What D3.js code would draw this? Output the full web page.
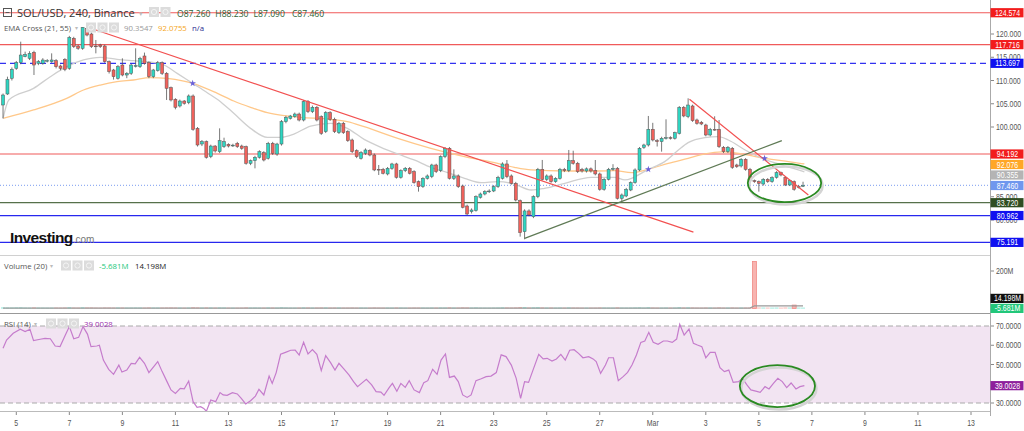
<!DOCTYPE html>
<html>
<head>
<meta charset="utf-8">
<script src="https://cdn.jsdelivr.net/npm/d3@7"></script>
<style>
  body { margin: 0; background: #fff; }
  svg { display: block; font-family: "Open Sans", "Liberation Sans", sans-serif; }
  .axis-text { font-family: "Liberation Sans", Arial, sans-serif; }
</style>
</head>
<body>
<svg id="chart" width="1024" height="431"></svg>
<script>
// SOL/USD 4h candles, first bar 4 Feb 2022 12:00 UTC
var startTime = Date.UTC(2022, 1, 4, 12);
var barHours = 4;

// [open, high, low, close]
var candles = [
  [104.73,107.2,101.86,106.88],[107.10,110.82,106.9,110.25],[110.47,112.8,110.0,112.40],[112.62,114.2,112.3,113.83],[113.83,118.35,113.5,115.48],[115.12,116.2,115.0,115.63],
  [114.77,116.3,114.4,115.84],[116.06,116.4,111.18,113.33],[113.69,114.4,113.3,114.05],[113.69,114.8,113.4,114.41],[114.26,114.6,113.9,114.30],[114.05,115.84,113.8,114.41],
  [114.26,114.6,112.6,112.97],[113.12,113.4,112.2,112.62],[114.55,114.8,112.0,112.40],[112.62,119.6,112.3,119.28],[119.07,119.4,117.0,117.28],[117.42,117.7,116.6,116.92],
  [116.92,121.5,116.6,121.43],[121.22,121.5,119.5,119.78],[120.00,120.3,117.0,117.28],[117.42,118.71,115.84,117.28],[117.63,117.9,117.0,117.28],[117.42,117.7,113.8,114.05],
  [114.05,114.3,111.5,111.90],[112.26,112.5,110.2,110.82],[110.47,113.3,110.2,112.97],[113.33,114.77,110.9,111.18],[111.18,111.8,110.5,111.54],[111.54,113.6,111.2,113.33],
  [113.12,116.92,112.8,113.20],[112.97,115.1,112.7,114.77],[115.27,116.0,113.4,113.69],[113.83,114.1,110.5,110.82],[110.82,112.5,110.5,112.26],[112.12,114.2,111.9,113.83],
  [113.83,114.1,111.2,111.54],[111.54,111.8,105.81,108.31],[108.46,108.7,105.5,105.81],[105.95,106.2,103.8,104.23],[104.52,105.9,104.2,105.59],[105.59,105.8,104.8,105.09],
  [105.23,107.0,104.9,106.67],[106.67,107.0,99.2,99.50],[99.71,100.0,95.8,96.13],[96.34,97.2,95.9,96.85],[96.85,97.1,93.2,93.48],[93.62,96.2,93.3,95.91],
  [95.91,96.1,94.5,94.84],[94.69,99.71,94.4,97.06],[95.77,97.7,95.5,96.85],[96.27,96.5,95.6,95.91],[96.06,96.4,95.7,96.10],[96.49,96.8,95.5,95.77],
  [95.91,96.2,95.1,95.41],[95.77,96.0,91.9,92.19],[92.19,93.0,91.8,92.76],[92.76,93.8,91.11,93.48],[93.48,95.0,93.2,94.69],[94.48,94.8,92.6,92.90],
  [93.26,96.8,93.0,96.49],[96.49,96.8,94.0,94.34],[94.19,96.6,93.8,96.34],[96.34,101.5,96.0,101.15],[101.15,102.4,100.8,102.08],[101.86,102.6,101.6,102.36],
  [102.22,103.1,102.0,102.79],[102.79,103.1,101.2,101.50],[101.50,105.8,101.2,105.45],[105.45,105.8,103.0,103.30],[103.30,104.6,103.0,104.23],[104.23,104.5,101.2,101.50],
  [102.22,102.5,98.3,98.64],[99.00,103.4,98.7,103.08],[103.08,103.4,101.3,101.65],[101.65,102.0,98.7,99.00],[98.78,101.1,98.5,100.79],[100.79,101.1,98.5,98.78],
  [99.00,99.3,96.8,97.06],[97.21,97.5,94.4,94.70],[94.91,95.2,93.3,93.62],[93.26,94.8,93.0,94.48],[94.34,95.4,94.0,95.06],[94.91,95.2,93.7,93.98],
  [93.98,94.3,90.5,90.76],[90.90,91.83,89.68,90.85],[90.90,91.2,89.8,90.04],[89.90,91.4,89.6,91.11],[91.11,92.3,90.8,92.05],[92.05,92.3,88.9,89.18],
  [89.18,90.9,88.9,90.61],[90.61,91.4,90.3,91.11],[91.11,91.4,89.8,90.04],[90.40,90.7,87.8,88.03],[88.25,88.5,86.10,87.17],[87.17,89.2,86.9,88.96],
  [88.96,89.8,88.7,89.47],[89.32,92.1,89.0,91.83],[91.83,92.1,90.1,90.40],[90.61,93.9,90.3,93.62],[93.62,95.7,93.3,95.42],[95.42,95.7,88.7,88.96],
  [88.96,90.9,88.6,89.47],[89.47,89.8,86.9,87.17],[87.31,87.6,82.5,82.73],[83.01,83.3,81.0,81.29],[81.80,82.5,81.4,82.15],[82.01,85.3,81.8,85.02],
  [84.88,85.9,84.6,85.59],[85.59,86.4,85.3,86.10],[86.10,86.6,85.8,86.24],[86.24,87.5,86.0,87.17],[87.17,89.5,86.9,89.18],[88.96,92.4,88.7,92.05],
  [92.05,92.9,89.0,89.32],[89.47,89.8,87.6,87.89],[87.89,88.2,84.0,84.30],[84.16,84.4,76.42,77.28],[77.49,82.3,75.85,81.95],[81.95,82.3,80.8,81.08],
  [80.72,85.3,80.4,85.02],[85.02,91.2,84.7,90.90],[90.90,92.91,88.5,88.75],[88.75,89.8,88.4,89.47],[89.47,89.8,88.0,88.25],[88.25,89.2,88.0,88.96],
  [88.96,91.2,88.7,90.90],[90.90,91.2,90.3,90.61],[90.61,95.06,90.3,92.76],[92.76,94.9,91.9,92.19],[92.19,92.5,90.1,90.40],[90.90,91.2,90.2,90.54],
  [90.54,91.3,90.2,91.00],[91.00,91.3,90.2,90.54],[90.61,92.9,89.6,89.90],[89.90,90.2,86.3,86.60],[86.60,89.0,86.3,88.75],[88.75,91.2,88.5,90.90],
  [90.90,92.0,90.6,91.11],[91.11,91.4,84.4,84.66],[84.66,85.7,84.0,85.38],[85.16,86.9,84.9,86.60],[86.45,88.3,86.2,88.03],[88.03,91.1,87.8,90.76],
  [90.76,95.7,90.5,95.42],[95.63,96.4,95.3,96.13],[96.13,102.37,95.8,99.50],[99.50,100.9,96.9,97.21],[97.06,97.4,95.8,96.85],[96.85,97.9,94.7,97.57],
  [97.57,101.65,97.3,97.71],[97.71,98.0,97.3,97.60],[97.57,99.0,97.3,98.78],[98.64,104.5,98.4,104.23],[104.23,104.5,102.1,102.37],[102.22,106.17,101.9,104.73],
  [104.52,104.8,101.1,101.37],[101.51,101.8,100.5,100.79],[101.01,101.3,100.4,100.65],[100.43,100.7,98.0,98.28],[98.28,99.8,98.0,99.50],[99.50,102.3,99.2,99.45],
  [99.50,101.5,95.5,95.77],[95.63,95.9,94.4,94.70],[94.70,95.9,94.4,95.63],[95.42,95.7,91.0,91.33],[91.83,92.1,91.2,91.47],[91.62,93.3,91.3,93.05],
  [93.05,93.3,90.6,90.90],[90.90,91.2,88.3,88.61],[88.46,88.7,88.0,88.25],[88.25,88.5,86.10,87.89],[87.74,89.0,87.4,88.75],[88.75,89.0,88.0,88.25],
  [88.25,89.4,88.0,89.11],[89.18,90.5,88.9,90.18],[90.18,90.4,89.4,89.68],[89.18,89.4,87.3,87.53],[87.53,88.7,87.3,88.46],[88.25,88.5,86.3,86.60],
  [87.00,87.5,86.8,87.26],[87.26,88.23,87.09,87.46]
];

// volume, millions
var volumes = [
  2.4,2.1,1.9,2.6,3.1,1.7, 1.5,2.8,1.6,1.4,1.2,1.3, 1.9,1.5,2.2,3.4,2.0,1.6, 3.0,2.5,2.7,1.8,1.4,2.6,
  2.3,1.9,2.0,2.1,1.5,1.7, 1.9,1.8,1.6,2.5,1.7,1.8, 1.9,2.4,2.6,2.2,1.5,1.2, 1.6,3.8,2.9,1.7,2.6,2.0,
  1.6,2.3,1.9,1.3,1.1,1.2, 1.4,2.7,1.8,1.9,1.6,1.5, 2.2,2.0,1.7,3.3,2.1,1.5, 1.4,1.6,2.4,2.2,1.7,2.1,
  2.5,2.3,1.8,2.0,1.9,1.7, 1.8,2.2,1.6,1.7,1.4,1.5, 2.6,1.9,1.5,1.6,1.4,2.2, 1.8,1.3,1.5,2.0,1.9,1.6,
  1.4,1.8,1.6,2.1,1.9,3.0, 1.7,1.9,3.2,2.6,1.8,2.4, 1.5,1.3,1.2,1.6,1.9,2.7, 2.4,2.0,2.9,4.6,3.9,2.1,
  2.8,3.5,2.6,1.7,1.9,1.4, 1.8,1.5,2.4,2.0,1.9,1.3, 1.2,1.4,1.5,2.3,1.8,1.6, 1.3,2.9,1.6,1.5,1.7,2.2,
  3.1,1.6,3.4,2.1,1.5,1.4, 1.8,1.3,1.6,3.6,2.2,2.5, 2.4,1.7,1.4,2.0,1.6,1.5, 2.8,1.6,1.5,2.3,1.4,1.7,
  1.9,2.0,248,1.8,1.5,1.4, 1.3,1.6,1.2,2.1,1.5,15, 1.4,1.2
];
var volumeMa = [[0, 2.1], [169, 2.0], [170, 14.5], [181, 14.2]];

// EMA cross (21, 55): [bar index, value]
var ema21 = [
  [0,101.86],[1.3,105.81],[6.9,108.31],[10.7,110.82],[14.4,112.97],[18.2,114.41],[22,114.98],[25.8,114.55],
  [29.5,114.26],[33.3,113.98],[36.4,113.33],[39.4,111.54],[42.9,109.39],[46.2,107.38],[49.2,105.45],[52.2,102.94],
  [56,99.71],[59.8,97.78],[62.8,97.78],[65.8,98.49],[69.6,100.21],[74.1,100.79],[77.9,99.72],[81.7,97.35],
  [85.5,95.63],[89.3,94.20],[93,92.91],[96.8,91.33],[100.6,90.18],[104.4,88.96],[108.2,88.03],[111.9,88.25],
  [115.7,87.74],[119.5,86.45],[122.5,86.81],[127.1,87.89],[133.1,89.18],[138.4,89.18],[140.7,88.61],[146,90.90],
  [149.7,92.55],[152.8,95.06],[155,96.63],[158.8,97.71],[161.8,97.92],[164.1,97.21],[167.9,95.06],[171.7,93.26],
  [175.4,92.05],[179.2,90.97],[181.3,90.36]
];
var ema55 = [
  [0,101.86],[6.9,103.66],[14.4,106.16],[18.2,107.96],[22,109.03],[25.8,109.75],[29.5,110.11],[33.3,110.61],
  [37.1,110.47],[40.9,109.89],[42.9,109.39],[48.5,107.24],[52.2,105.59],[56,104.23],[59.8,103.08],[63.6,102.44],
  [67.3,102.08],[74.1,101.65],[77.9,101.15],[81.7,100.07],[89.3,97.57],[96.8,95.42],[104.4,93.62],[111.9,92.19],
  [115.7,91.33],[119.5,90.76],[127.1,90.54],[134.6,90.54],[138.4,90.61],[142.2,90.18],[146,90.90],[150.5,92.19],
  [155,93.26],[158.8,94.20],[162.6,94.63],[166.4,94.34],[170.2,93.62],[173.9,93.05],[177.7,92.55],[181.3,92.05]
];
var emaCrosses = [[42.9, 109.4], [146, 90.9], [172.3, 93.27]];

// RSI (14): [bar index, value]
var rsi = [
  [0,58.4],[0.8,62.7],[2.3,66.2],[3.9,68.3],[5.0,67.1],[6.1,68.3],[6.9,62.4],[8.4,63.1],[9.5,63.6],[10.7,63.4],
  [11.8,59.6],[12.9,59.3],[14.1,65.3],[15.0,69.7],[16.0,63.4],[17.1,64.1],[18.1,69.7],[19.1,65.8],[19.9,59.3],[21.2,59.6],
  [21.8,60.0],[22.7,52.3],[23.9,47.5],[25.0,44.9],[26.2,49.7],[26.9,46.1],[28.0,47.1],[29.0,50.6],[29.9,50.3],[30.9,53.7],
  [32.0,50.6],[33.0,45.8],[34.1,48.9],[35.0,51.5],[36.0,46.3],[37.1,41.1],[38.0,36.8],[39.0,35.0],[40.1,37.6],[41.0,37.4],
  [42.0,41.4],[43.0,30.7],[43.9,27.8],[44.7,28.1],[45.4,27.2],[46.0,25.7],[47.0,31.6],[48.1,30.7],[49.1,35.4],[49.8,34.2],
  [50.7,34.0],[51.9,35.4],[53.0,34.7],[53.9,32.4],[54.9,29.5],[56.0,31.2],[57.1,33.6],[57.9,37.1],[59.0,34.2],[60.2,44.0],
  [60.9,40.2],[61.8,45.8],[62.8,55.3],[63.9,56.3],[65.1,57.4],[66.1,57.5],[67.0,54.9],[68.0,61.5],[69.0,55.5],[70.0,57.7],
  [71.0,55.3],[72.0,46.8],[73.0,54.6],[74.1,51.0],[75.1,47.1],[76.0,50.6],[77.2,47.5],[78.3,44.5],[79.3,41.1],[80.2,38.5],
  [81.3,40.6],[82.2,42.3],[83.4,39.4],[84.4,35.9],[85.5,35.7],[86.2,34.0],[87.4,38.1],[88.1,40.2],[89.1,36.1],[90.0,40.2],
  [91.0,38.1],[91.9,41.6],[93.0,36.8],[94.2,35.4],[95.2,40.6],[96.1,41.6],[97.2,47.5],[98.2,44.9],[99.1,52.3],[100.1,55.5],
  [101.0,43.3],[102.1,44.0],[103.0,41.1],[104.0,34.2],[105.0,32.9],[105.9,34.2],[107.0,41.6],[108.2,42.6],[109.3,43.7],[110.4,44.0],
  [111.6,45.8],[112.7,55.0],[113.8,54.1],[115.0,49.7],[116.1,42.8],[117.1,32.4],[118.0,41.1],[118.9,40.7],[119.9,47.1],[121.2,55.3],
  [122.2,52.9],[123.1,53.2],[124.2,51.8],[125.2,52.9],[126.2,55.3],[127.2,52.3],[128.2,57.4],[129.2,57.7],[130.2,55.8],[131.2,53.5],
  [132.5,54.1],[133.5,52.9],[134.2,51.5],[135.2,45.4],[136.3,49.7],[137.0,53.5],[138.1,53.5],[139.2,41.6],[140.3,43.7],[141.3,45.9],
  [142.3,49.7],[143.3,54.9],[144.3,61.5],[145.2,62.2],[146.1,66.7],[147.1,61.5],[148.2,60.5],[149.4,62.2],[150.3,62.2],[151.4,61.5],
  [152.4,63.2],[153.1,70.9],[154.1,65.3],[155.2,68.4],[156.2,61.0],[157.1,60.1],[158.1,59.3],[159.0,53.5],[160.0,56.3],[161.1,56.3],
  [162.2,48.4],[163.2,46.3],[164.2,47.1],[165.2,40.7],[166.4,41.1],[167.3,42.8],[168.3,39.4],[169.2,36.8],[170.3,36.2],[171.3,35.5],
  [172.4,38.5],[173.3,37.3],[174.3,40.2],[175.3,42.8],[176.3,41.1],[177.3,38.0],[178.3,40.4],[179.4,37.3],[180.3,38.5],[181.3,39.0]
];

// horizontal levels
var redLevels = [124.574, 117.716, 94.192];
var dashedLevels = [113.697];
var blueLevels = [80.962, 75.191];
var greenLevels = [83.720];
var lastClose = 87.460;
var ema21Last = "90.3547", ema55Last = "92.0755";
var ema21Tag = 90.355, ema55Tag = 92.076;
var lastOhlc = ["O87.260", "H88.230", "L87.090", "C87.460"];
var volLegend = ["-5.681M", "14.198M"];
var rsiLast = 39.0028;

// drawn trendlines: [bar index, price]
var downTrend = [[19.0, 121.5], [156.2, 77.4]];
var upTrend = [[118.0, 76.06], [176.2, 97.06]];
var shortDown = [[155.3, 105.95], [182.2, 85.38]];
// ellipses: centre bar, centre value, half width in bars, half height in value
var priceRing = [176.8, 87.96, 8.3, 4.1];
var rsiRing = [175.2, 38.8, 8.5, 10.9];

// axis ticks
var priceTicks = [80, 85, 90, 95, 100, 105, 110, 115, 120];
var rsiTicks = [30, 40, 50, 60, 70];
var volTicks = [200];
var dayTickDates = ["2022-02-05","2022-02-07","2022-02-09","2022-02-11","2022-02-13","2022-02-15","2022-02-17","2022-02-19",
  "2022-02-21","2022-02-23","2022-02-25","2022-02-27","2022-03-01","2022-03-03","2022-03-05","2022-03-07","2022-03-09","2022-03-11","2022-03-13"];
var dayTickLabels = ["5","7","9","11","13","15","17","19","21","23","25","27","Mar","3","5","7","9","11","13"];

// ---------- layout ----------
var svg = d3.select("#chart");
var plotRight = 990;
var priceBottom = 255, volTop = 256, volBottom = 313, rsiBottom = 411;

var x = d3.scaleUtc()
    .domain([new Date(Date.UTC(2022, 1, 5)), new Date(Date.UTC(2022, 2, 13))])
    .range([16.3, 971]);
function barTime(i) { return new Date(startTime + i * barHours * 3600e3); }
function xb(i) { return x(barTime(i)); }

var yPrice = d3.scaleLinear().domain([75, 125]).range([243.25, 10.75]);
var yVol = d3.scaleLinear().domain([0, 200]).range([308.5, 271]);
var yRsi = d3.scaleLinear().domain([30, 70]).range([403, 326]);

// narrow axis text (no condensed font installed, so squeeze it)
function narrowText(g, xx, yy, txt, size, fill, anchor) {
    return g.append("text")
        .attr("class", "axis-text")
        .attr("transform", "translate(" + xx + "," + yy + ") scale(0.82,1)")
        .attr("text-anchor", anchor || "start")
        .attr("font-size", size).attr("fill", fill)
        .text(txt);
}

var defs = svg.append("defs");
defs.append("clipPath").attr("id", "clipPrice")
    .append("rect").attr("x", 0).attr("y", 0).attr("width", plotRight).attr("height", priceBottom);
defs.append("clipPath").attr("id", "clipVol")
    .append("rect").attr("x", 0).attr("y", volTop).attr("width", plotRight).attr("height", volBottom - volTop);
defs.append("clipPath").attr("id", "clipRsi")
    .append("rect").attr("x", 0).attr("y", volBottom).attr("width", plotRight).attr("height", rsiBottom - volBottom);

var gPrice = svg.append("g").attr("clip-path", "url(#clipPrice)");
var gVol = svg.append("g").attr("clip-path", "url(#clipVol)");
var gRsi = svg.append("g").attr("clip-path", "url(#clipRsi)");

// ---------- price pane ----------
function hLine(g, v, colour, dash, width) {
    g.append("line")
        .attr("x1", 0).attr("x2", plotRight)
        .attr("y1", yPrice(v)).attr("y2", yPrice(v))
        .attr("stroke", colour).attr("stroke-width", width || 1)
        .attr("stroke-dasharray", dash || null);
}
redLevels.forEach(function(v) { hLine(gPrice, v, "#f05a5a", null, 1.2); });
dashedLevels.forEach(function(v) { hLine(gPrice, v, "#3232f0", "6,4", 1.2); });
blueLevels.forEach(function(v) { hLine(gPrice, v, "#2828ee", null, 1.2); });
greenLevels.forEach(function(v) { hLine(gPrice, v, "#56704a", null, 1.2); });
hLine(gPrice, lastClose, "#7a9cf0", "1,2", 1);

// watermark
var wm = svg.append("text").attr("x", 10).attr("y", 243)
    .attr("font-family", "Liberation Sans, Arial, sans-serif");
wm.append("tspan").attr("font-weight", "bold").attr("font-size", 15.5).attr("fill", "#111")
    .attr("letter-spacing", -0.6).text("Investing");
wm.append("tspan").attr("font-size", 10).attr("fill", "#777").text(".com");

// EMA lines
var emaLine = d3.line()
    .curve(d3.curveMonotoneX)
    .x(function(d) { return xb(d[0]); })
    .y(function(d) { return yPrice(d[1]); });
gPrice.append("path").datum(ema55).attr("d", emaLine)
    .attr("fill", "none").attr("stroke", "#ffc88a").attr("stroke-width", 1.3);
gPrice.append("path").datum(ema21).attr("d", emaLine)
    .attr("fill", "none").attr("stroke", "#cfcfcf").attr("stroke-width", 1.3);

// candles
var bodyW = 3;
var candleG = gPrice.append("g");
candleG.selectAll("line.wick")
    .data(candles).enter().append("line")
    .attr("class", "wick")
    .attr("x1", function(d, i) { return xb(i); })
    .attr("x2", function(d, i) { return xb(i); })
    .attr("y1", function(d) { return yPrice(d[1]); })
    .attr("y2", function(d) { return yPrice(d[2]); })
    .attr("stroke", "#555").attr("stroke-width", 0.8);
candleG.selectAll("rect.body")
    .data(candles).enter().append("rect")
    .attr("class", "body")
    .attr("x", function(d, i) { return xb(i) - bodyW / 2; })
    .attr("y", function(d) { return yPrice(Math.max(d[0], d[3])); })
    .attr("width", bodyW)
    .attr("height", function(d) { return Math.max(0.8, Math.abs(yPrice(d[0]) - yPrice(d[3]))); })
    .attr("fill", function(d) { return d[3] >= d[0] ? "#2ed6c2" : "#f0615b"; })
    .attr("stroke", "#555").attr("stroke-width", 0.5);

// trendlines
var trendLine = d3.line()
    .x(function(d) { return xb(d[0]); })
    .y(function(d) { return yPrice(d[1]); });
gPrice.append("path").datum(downTrend).attr("d", trendLine)
    .attr("stroke", "#f25050").attr("stroke-width", 1.2).attr("fill", "none");
gPrice.append("path").datum(shortDown).attr("d", trendLine)
    .attr("stroke", "#f25050").attr("stroke-width", 1.2).attr("fill", "none");
gPrice.append("path").datum(upTrend).attr("d", trendLine)
    .attr("stroke", "#5f7a55").attr("stroke-width", 1.2).attr("fill", "none");

// EMA cross markers
gPrice.selectAll("path.cross")
    .data(emaCrosses).enter().append("path")
    .attr("class", "cross")
    .attr("transform", function(d) { return "translate(" + xb(d[0]) + "," + yPrice(d[1]) + ")"; })
    .attr("d", d3.symbol().type(d3.symbolStar).size(14))
    .attr("fill", "#6a60d8");

function ring(g, r, yScale) {
    var cx = xb(r[0]), cy = yScale(r[1]);
    var rx = xb(r[0] + r[2]) - cx, ry = yScale(r[1] - r[3]) - cy;
    g.append("ellipse").attr("cx", cx + 1.5).attr("cy", cy + 2.5).attr("rx", rx).attr("ry", ry)
        .attr("fill", "none").attr("stroke", "#d4d4d4").attr("stroke-width", 2.5);
    g.append("ellipse").attr("cx", cx).attr("cy", cy).attr("rx", rx).attr("ry", ry)
        .attr("fill", "none").attr("stroke", "#2a8a22").attr("stroke-width", 1.8);
}
ring(gPrice, priceRing, yPrice);

// ---------- volume pane ----------
gVol.selectAll("rect.vol")
    .data(volumes).enter().append("rect")
    .attr("class", "vol")
    .attr("x", function(d, i) { return xb(i) - 2; })
    .attr("width", 4)
    .attr("y", function(d) { return yVol(d) - 0.6; })
    .attr("height", function(d) { return yVol(0) - yVol(d) + 0.6; })
    .attr("fill", function(d, i) { return candles[i][3] >= candles[i][0] ? "#8fe6d8" : "#f7b4b0"; })
    .attr("stroke", function(d) { return d > 10 ? "#f08a85" : "none"; })
    .attr("stroke-width", 0.8);
gVol.append("path").datum(volumeMa)
    .attr("d", d3.line().x(function(d) { return xb(d[0]); }).y(function(d) { return yVol(d[1]); }))
    .attr("fill", "none").attr("stroke", "#9a9a9a").attr("stroke-width", 1.2);

// ---------- RSI pane ----------
gRsi.append("rect")
    .attr("x", 0).attr("width", plotRight)
    .attr("y", yRsi(70)).attr("height", yRsi(30) - yRsi(70))
    .attr("fill", "#f2e4f2");
[70, 30].forEach(function(v) {
    gRsi.append("line").attr("x1", 0).attr("x2", plotRight)
        .attr("y1", yRsi(v)).attr("y2", yRsi(v))
        .attr("stroke", "#aaa").attr("stroke-width", 1.2).attr("stroke-dasharray", "5,3");
});
gRsi.append("path").datum(rsi)
    .attr("d", d3.line().x(function(d) { return xb(d[0]); }).y(function(d) { return yRsi(d[1]); }))
    .attr("fill", "none").attr("stroke", "#c57ccc").attr("stroke-width", 1.2);
ring(gRsi, rsiRing, yRsi);

// ---------- frame ----------
svg.append("line").attr("x1", 0).attr("x2", plotRight).attr("y1", priceBottom + 0.5).attr("y2", priceBottom + 0.5)
    .attr("stroke", "#d0d0d0");
svg.append("line").attr("x1", 0).attr("x2", plotRight).attr("y1", volBottom + 0.5).attr("y2", volBottom + 0.5)
    .attr("stroke", "#999");
svg.append("line").attr("x1", 0).attr("x2", plotRight).attr("y1", rsiBottom + 0.5).attr("y2", rsiBottom + 0.5)
    .attr("stroke", "#bbb");
svg.append("line").attr("x1", plotRight + 0.5).attr("x2", plotRight + 0.5).attr("y1", 0).attr("y2", 416)
    .attr("stroke", "#aaa");

// ---------- value tags (price axis), pushed apart when they collide ----------
var tags = [];
redLevels.forEach(function(v) { tags.push({ v: v, bg: "#f21c1c" }); });
dashedLevels.forEach(function(v) { tags.push({ v: v, bg: "#1010f0" }); });
blueLevels.forEach(function(v) { tags.push({ v: v, bg: "#1010f0" }); });
greenLevels.forEach(function(v) { tags.push({ v: v, bg: "#2f4d22" }); });
tags.push({ v: ema55Tag, bg: "#ffa726" });
tags.push({ v: ema21Tag, bg: "#b4b4b4" });
tags.push({ v: lastClose, bg: "#6f97ee" });
tags.forEach(function(d) { d.y = yPrice(d.v); });
tags.sort(function(a, b) { return a.y - b.y; });
for (var k = 1; k < tags.length; k++) {
    if (tags[k].y < tags[k - 1].y + 10.5) tags[k].y = tags[k - 1].y + 10.5;
}

// ---------- right axes ----------
function rightTicks(values, scale, fmt, lo, hi, covers) {
    var g = svg.append("g");
    values.forEach(function(v) {
        var yy = scale(v);
        if (yy < lo || yy > hi) return;
        // hidden behind a value tag
        if (covers.some(function(c) { return Math.abs(c - yy) < 4; })) return;
        g.append("line").attr("x1", plotRight + 1).attr("x2", plotRight + 4)
            .attr("y1", yy).attr("y2", yy).attr("stroke", "#888");
        narrowText(g, plotRight + 6, yy + 3, fmt(v), 8.5, "#555");
    });
}
rightTicks(priceTicks, yPrice, d3.format(".3f"), 5, 250, tags.map(function(d) { return d.y; }));
rightTicks(volTicks, yVol, function(v) { return v + "M"; }, 260, 310, []);
rightTicks(rsiTicks, yRsi, d3.format(".4f"), 318, 408, [yRsi(rsiLast)]);

function drawTag(yy, txt, bg, fg) {
    var g = svg.append("g").attr("transform", "translate(" + (plotRight + 0.5) + "," + yy + ")");
    g.append("rect").attr("x", 0).attr("y", -4.6).attr("width", 33).attr("height", 9.2).attr("fill", bg);
    narrowText(g, 17, 3, txt, 8.5, fg, "middle");
}
tags.forEach(function(d) { drawTag(d.y, d3.format(".3f")(d.v), d.bg, "#fff"); });
drawTag(298.4, volLegend[1], "#111", "#fff");
drawTag(308.4, volLegend[0], "#22c77a", "#fff");
drawTag(yRsi(rsiLast), d3.format(".4f")(rsiLast), "#8e1f9c", "#fff");

// ---------- time axis ----------
var xa = svg.append("g");
dayTickDates.forEach(function(s, i) {
    var xx = x(new Date(s + "T00:00:00Z"));
    xa.append("line").attr("x1", xx).attr("x2", xx).attr("y1", rsiBottom + 1).attr("y2", rsiBottom + 4)
        .attr("stroke", "#888");
    narrowText(xa, xx, 426, dayTickLabels[i], 8.5, "#555", "middle");
});

// ---------- legends ----------
function icons(x0, y0, n) {
    for (var j = 0; j < n; j++) {
        svg.append("rect").attr("x", x0 + j * 11.5).attr("y", y0).attr("width", 10).attr("height", 10)
            .attr("fill", "#dcdcdc");
        svg.append("circle").attr("cx", x0 + j * 11.5 + 5).attr("cy", y0 + 5).attr("r", 2.6)
            .attr("fill", "none").attr("stroke", "#f4f4f4").attr("stroke-width", 1);
    }
}
function legendText(xx, yy, txt, size, fill) {
    return svg.append("text").attr("x", xx).attr("y", yy).attr("font-size", size).attr("fill", fill).text(txt);
}
// title row
svg.append("rect").attr("x", 3.5).attr("y", 8.5).attr("width", 8).attr("height", 8)
    .attr("fill", "none").attr("stroke", "#555");
svg.append("line").attr("x1", 5.5).attr("x2", 9.5).attr("y1", 12.5).attr("y2", 12.5).attr("stroke", "#555");
legendText(17, 17, "SOL/USD, 240, Binance", 11, "#333");
legendText(139, 16, "\u25BE", 7, "#bbb");
icons(149, 7, 2);
lastOhlc.forEach(function(s, i) { legendText(177 + i * 38.3, 17, s, 8.6, "#2f5f35"); });

// EMA legend
legendText(4, 31, "EMA Cross (21, 55)", 7.8, "#555");
legendText(75, 30, "\u25BE", 6, "#bbb");
icons(86, 22.5, 3);
legendText(124, 31, ema21Last, 7.8, "#999");
legendText(158, 31, ema55Last, 7.8, "#f5a623");
legendText(192, 31, "n/a", 7.8, "#2b2b8f");

// volume legend
legendText(4, 269, "Volume (20)", 7.8, "#555");
legendText(50, 268, "\u25BE", 6, "#bbb");
icons(61, 260.5, 3);
legendText(99, 269, volLegend[0], 7.8, "#22c77a");
legendText(135, 269, volLegend[1], 7.8, "#222");

// RSI legend
legendText(4, 327, "RSI (14)", 7.8, "#555");
legendText(34, 326, "\u25BE", 6, "#bbb");
icons(46, 318.5, 3);
legendText(84, 327, d3.format(".4f")(rsiLast), 7.8, "#9b2fae");
</script>
</body>
</html>
